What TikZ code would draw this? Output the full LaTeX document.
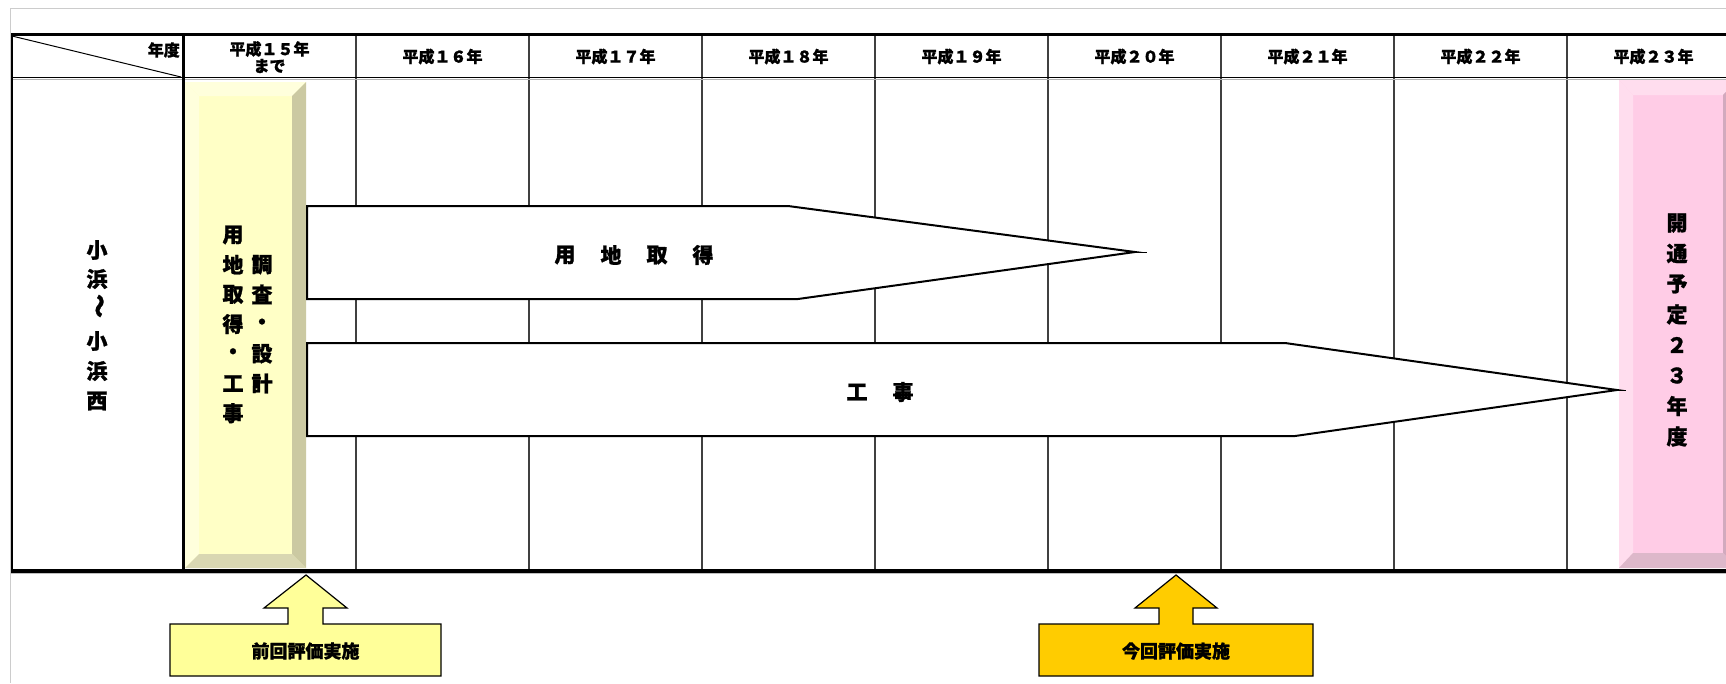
\documentclass[tikz,border=0pt]{standalone}
\usepackage{fontspec}
\newfontfamily\jp[BoldFeatures={FakeBold=1.2}]{Noto Sans CJK JP}
\definecolor{gridc}{HTML}{404040}
\definecolor{yface}{HTML}{FFFFC6}
\definecolor{ylight}{HTML}{FFFFDC}
\definecolor{ydark}{HTML}{CBC9A2}
\definecolor{ybot}{HTML}{D9D7B2}
\definecolor{pface}{HTML}{FFCCE6}
\definecolor{plight}{HTML}{FFDDEE}
\definecolor{pdark}{HTML}{D2AABE}
\definecolor{pbot}{HTML}{DDB8CA}
\definecolor{evalA}{HTML}{FFFF99}
\definecolor{evalB}{HTML}{FFCC00}
\begin{document}
\begin{tikzpicture}[x=1pt,y=-1pt,
  jpt/.style={font=\jp\bfseries\fontsize{#1}{#1}\selectfont, inner sep=0pt},
  bar/.style={draw=black, line width=2, fill=white, line join=miter},
  evalshape/.style={draw=black, line width=1.2},
  tail/.style={line width=1}]
\useasboundingbox (0,0) rectangle (1726,683);
\fill[white] (0,0) rectangle (1726,683);
% outer light frame
\draw[gray!40, line width=1] (10.5,683) -- (10.5,8.5) -- (1726,8.5);
% column lines
\foreach \k in {1,...,8} \draw[gridc, line width=1.3] ({183+173*\k},34) -- ({183+173*\k},570);
% yellow bevel box
\fill[yface] (185,82) rectangle (306,568);
\fill[ylight] (185,82) -- (306,82) -- (292,96) -- (199,96) -- cycle;
\fill[ylight] (185,82) -- (199,96) -- (199,554) -- (185,568) -- cycle;
\fill[ydark] (306,82) -- (306,568) -- (292,554) -- (292,96) -- cycle;
\fill[ybot] (185,568) -- (306,568) -- (292,554) -- (199,554) -- cycle;
% pink bevel box
\fill[pface] (1619,80) rectangle (1737,568);
\fill[plight] (1619,80) -- (1737,80) -- (1723,95) -- (1633,95) -- cycle;
\fill[plight] (1619,80) -- (1633,95) -- (1633,553) -- (1619,568) -- cycle;
\fill[pdark] (1737,80) -- (1737,568) -- (1723,553) -- (1723,95) -- cycle;
\fill[pbot] (1619,568) -- (1737,568) -- (1723,553) -- (1633,553) -- cycle;
% table rules
\draw[line width=2.5] (11,34.3) -- (1726,34.3);
\draw[line width=1.5] (11,77.5) -- (1726,77.5);
\draw[gray!60, line width=1] (11,79.5) -- (1726,79.5);
\draw[line width=3.5] (11,571) -- (1726,571);
\draw[gray!50, line width=1] (11,573.6) -- (1726,573.6);
\draw[line width=1.2] (12,34) -- (12,571);
\draw[line width=3] (183.5,34) -- (183.5,571);
\draw[line width=1] (12,36) -- (181,77);
% header texts
\node[jpt=16, anchor=east] (nendo) at (180,50) {年度};
\node[jpt=16] (h15a) at (269.5,49) {平成１５年};
\node[jpt=16] (h15b) at (269.5,66) {まで};
\foreach \yy [count=\i] in {１６,１７,１８,１９,２０,２１,２２,２３}
  \node[jpt=16] (h\i) at ({269.5+173*\i},56.5) {平成\yy{}年};
% left label
\node[jpt=21] (s1) at (97,250) {小};
\node[jpt=21] (s2) at (97,279) {浜};
\node[jpt=24, rotate=-90] (s3) at (97,306) {～};
\node[jpt=21] (s4) at (97,341) {小};
\node[jpt=21] (s5) at (97,371) {浜};
\node[jpt=21] (s6) at (97,401) {西};
% yellow box text
\foreach \c [count=\i] in {用,地,取,得,・,工,事}
  \node[jpt=21] (ya\i) at (233,{235+29.7*(\i-1)}) {\c};
\foreach \c [count=\i] in {調,査,・,設,計}
  \node[jpt=21] (yb\i) at (262,{235+29.7*\i}) {\c};
% pink box text
\foreach \c [count=\i] in {開,通,予,定,２,３,年,度}
  \node[jpt=21] (p\i) at (1677,{223+30.5*(\i-1)}) {\c};
% bars
\draw[bar] (307,206) -- (788,206) -- (1135,252) -- (798,299) -- (307,299) -- cycle;
\coordinate (tipA) at (1135,252);
\coordinate (tailA) at (1147,252);
\draw[tail] (tipA) -- (tailA);
\draw[bar] (307,343) -- (1285,343) -- (1617,390) -- (1295,436) -- (307,436) -- cycle;
\coordinate (tipB) at (1617,390);
\coordinate (tailB) at (1626,390);
\draw[tail] (tipB) -- (tailB);
\foreach \c/\x [count=\i] in {用/565,地/611,取/657,得/703}
  \node[jpt=21] (ua\i) at (\x,255) {\c};
\node[jpt=21] (ko1) at (857,392) {工};
\node[jpt=21] (ko2) at (903,392) {事};
% evaluation markers
\draw[evalshape, fill=evalA] (170,624) -- (288,624) -- (288,608) -- (264,608) -- (306,575) -- (347,608) -- (323,608) -- (323,624) -- (441,624) -- (441,676) -- (170,676) -- cycle;
\node[jpt=18] (zenkai) at (305.5,651) {前回評価実施};
\draw[evalshape, fill=evalB] (1039,624) -- (1159,624) -- (1159,608) -- (1135,608) -- (1176,575) -- (1217,608) -- (1193,608) -- (1193,624) -- (1313,624) -- (1313,676) -- (1039,676) -- cycle;
\node[jpt=18] (konkai) at (1176,651) {今回評価実施};
\end{tikzpicture}
\end{document}
